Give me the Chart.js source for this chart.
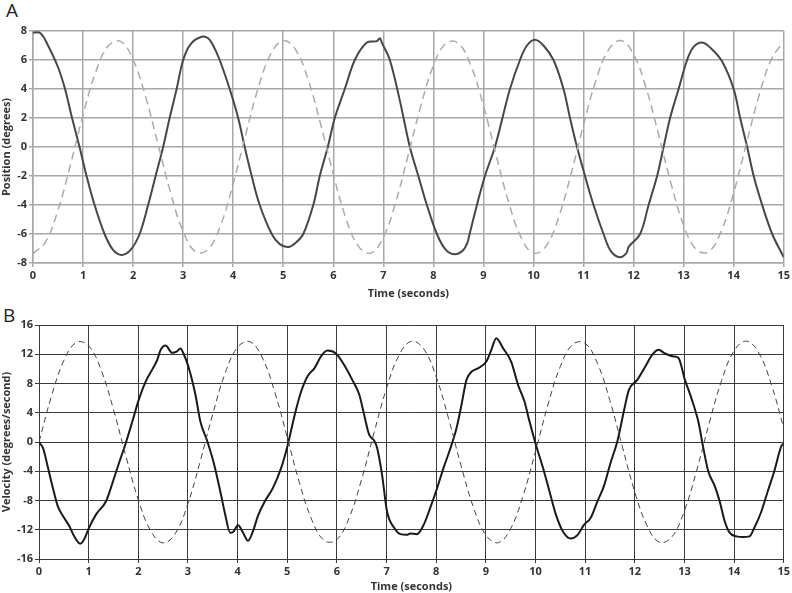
<!DOCTYPE html>
<html>
<head>
<meta charset="utf-8">
<script src="https://cdn.jsdelivr.net/npm/chart.js@4/dist/chart.umd.min.js"></script>
<style>
    body { margin: 0; background: #fff; width: 792px; height: 593px; position: relative; overflow: hidden; }
    .panel { position: absolute; left: 0; width: 792px; }
    .tag { position: absolute; font-family: "Open Sans", sans-serif; font-size: 19px; color: #222; }
</style>
</head>
<body>
<div class="tag" style="left:6px; top:-3px;">A</div>
<div class="panel" style="top:0; height:300px;"><canvas id="posChart"></canvas></div>
<div class="tag" style="left:3px; top:302px;">B</div>
<div class="panel" style="top:300px; height:293px;"><canvas id="velChart"></canvas></div>
<script>
// reference (dashed) curves, sampled every 0.25 s
const refTimes = [
    0, 0.25, 0.5, 0.75, 1, 1.25, 1.5, 1.75, 2, 2.25,
    2.5, 2.75, 3, 3.25, 3.5, 3.75, 4, 4.25, 4.5, 4.75,
    5, 5.25, 5.5, 5.75, 6, 6.25, 6.5, 6.75, 7, 7.25,
    7.5, 7.75, 8, 8.25, 8.5, 8.75, 9, 9.25, 9.5, 9.75,
    10, 10.25, 10.5, 10.75, 11, 11.25, 11.5, 11.75, 12, 12.25,
    12.5, 12.75, 13, 13.25, 13.5, 13.75, 14, 14.25, 14.5, 14.75,
    15
];
const posReference = [
    -7.35, -6.56, -4.35, -1.2, 2.21, 5.14, 6.96, 7.28, 6.03, 3.47,
    0.17, -3.17, -5.83, -7.22, -7.06, -5.38, -2.53, 0.86, 4.07, 6.4,
    7.34, 6.7, 4.62, 1.54, -1.88, -4.89, -6.84, -7.32, -6.22, -3.77,
    -0.51, 2.85, 5.61, 7.15, 7.15, 5.61, 2.85, -0.51, -3.77, -6.22,
    -7.32, -6.84, -4.88, -1.88, 1.54, 4.62, 6.7, 7.34, 6.39, 4.07,
    0.86, -2.54, -5.38, -7.06, -7.22, -5.82, -3.17, 0.18, 3.47, 6.03,
    7.28
];
const velReference = [
    0, 6.24, 11.12, 13.61, 13.16, 9.87, 4.45, -1.93, -7.9, -12.16,
    -13.8, -12.46, -8.42, -2.57, 3.83, 9.41, 12.96, 13.71, 11.49, 6.8,
    0.65, -5.66, -10.73, -13.49, -13.34, -10.31, -5.06, 1.3, 7.36, 11.84,
    13.77, 12.72, 8.92, 3.2, -3.2, -8.92, -12.72, -13.77, -11.84, -7.36,
    -1.3, 5.06, 10.32, 13.34, 13.49, 10.73, 5.66, -0.65, -6.82, -11.49,
    -13.71, -12.95, -9.41, -3.83, 2.59, 8.42, 12.46, 13.8, 12.16, 7.89,
    1.92
];

// measured position (solid)
const posTimes = [
    0, 0.15, 0.3, 0.5, 0.64, 0.78, 0.93, 1.07, 1.23, 1.43,
    1.6, 1.77, 1.95, 2.13, 2.3, 2.45, 2.6, 2.73, 2.87, 3.0,
    3.15, 3.37, 3.5, 3.6, 3.73, 3.93, 4.1, 4.23, 4.37, 4.53,
    4.77, 4.93, 5.1, 5.25, 5.4, 5.6, 5.73, 5.89, 6.03, 6.23,
    6.43, 6.67, 6.87, 6.93, 6.97, 7.13, 7.33, 7.53, 7.7, 7.87,
    8.07, 8.25, 8.43, 8.6, 8.68, 8.71, 8.87, 9.03, 9.23, 9.38,
    9.53, 9.73, 9.87, 10.03, 10.2, 10.4, 10.6, 10.73, 10.87, 11.03,
    11.2, 11.4, 11.55, 11.73, 11.86, 11.9, 12.13, 12.3, 12.47, 12.6,
    12.73, 12.9, 13.07, 13.2, 13.37, 13.55, 13.77, 14.0, 14.13, 14.27,
    14.4, 14.57, 14.77, 15
];
const posDeg = [
    7.9, 7.85, 7.0, 5.5, 4.0, 2.0, 0, -2, -4, -6,
    -7.1, -7.45, -7.1, -6, -4, -2, 0, 2, 4, 6,
    7.1, 7.6, 7.5, 7.0, 6, 4, 2, 0, -2, -4,
    -6, -6.7, -6.9, -6.6, -6, -4, -2, 0, 2, 4,
    6, 7.2, 7.3, 7.5, 7.2, 6, 3.2, 0, -2, -4,
    -6, -7.1, -7.4, -7.1, -6.6, -6.2, -4, -2, 0, 2,
    4, 6, 7.0, 7.4, 7.0, 6, 4, 2, 0, -2,
    -4, -6, -7.2, -7.6, -7.3, -6.9, -6, -4, -2, 0,
    2, 4, 6, 6.9, 7.2, 6.8, 5.9, 4, 2, 0,
    -2, -4, -6, -7.6
];

// measured velocity (solid)
const velTimes = [
    0, 0.08, 0.18, 0.28, 0.38, 0.48, 0.61, 0.71, 0.83, 0.91,
    1.01, 1.15, 1.35, 1.48, 1.61, 1.75, 1.88, 2.01, 2.15, 2.28,
    2.38, 2.45, 2.55, 2.68, 2.78, 2.85, 2.91, 3.01, 3.15, 3.25,
    3.38, 3.51, 3.65, 3.75, 3.85, 3.91, 4.01, 4.11, 4.21, 4.31,
    4.41, 4.55, 4.71, 4.88, 5.01, 5.15, 5.28, 5.41, 5.55, 5.68,
    5.81, 5.98, 6.15, 6.31, 6.45, 6.55, 6.65, 6.75, 6.81, 6.91,
    7.01, 7.15, 7.28, 7.41, 7.48, 7.61, 7.75, 7.88, 8.01, 8.15,
    8.28, 8.41, 8.51, 8.61, 8.71, 8.85, 9.01, 9.11, 9.21, 9.35,
    9.51, 9.65, 9.78, 9.88, 10.01, 10.15, 10.28, 10.41, 10.55, 10.71,
    10.85, 10.98, 11.11, 11.25, 11.38, 11.51, 11.65, 11.78, 11.88, 12.05,
    12.21, 12.35, 12.48, 12.61, 12.78, 12.88, 13.01, 13.15, 13.28, 13.38,
    13.48, 13.61, 13.71, 13.81, 13.91, 14.05, 14.18, 14.31, 14.41, 14.55,
    14.68, 14.81, 14.95, 15
];
const velDeg = [
    -0.1, -0.8, -3.5, -6.3, -8.8, -10.1, -11.5, -12.9, -13.9, -13.3,
    -11.7, -9.9, -8.1, -5.6, -2.9, -0.1, 2.8, 5.8, 8.3, 9.9,
    11.2, 12.6, 13.2, 12.2, 12.4, 12.8, 12.1, 10.3, 6.5, 2.8,
    0.3, -2.6, -6.7, -9.9, -12.4, -12.3, -11.4, -12.4, -13.5, -12.2,
    -10.1, -8.1, -6.3, -3.5, -0.4, 3.7, 6.9, 9.0, 10.1, 11.7,
    12.5, 12.1, 10.5, 8.5, 6.5, 3.7, 1.0, 0.2, -0.8, -4.5,
    -9.5, -11.7, -12.6, -12.7, -12.5, -12.6, -11.3, -9.0, -6.5, -3.5,
    -1.0, 1.9, 5.1, 8.5, 9.6, 10.1, 11.0, 12.6, 14.2, 12.8,
    11.0, 7.8, 5.5, 2.8, -0.4, -3.5, -6.7, -9.9, -12.2, -13.2,
    -12.7, -11.3, -10.4, -8.1, -6.0, -2.9, 0.1, 4.2, 7.1, 8.5,
    10.3, 11.9, 12.6, 12.1, 11.7, 11.5, 8.5, 5.8, 2.8, -0.8,
    -4.0, -6.0, -8.1, -10.8, -12.4, -12.9, -13.0, -12.9, -11.7, -9.5,
    -6.7, -4.0, -0.6, -0.2
];

const tickFont = { family: "'Open Sans', sans-serif", size: 11, weight: 'bold' };

function toPoints(xs, ys) {
    return xs.map((x, i) => ({ x: x, y: ys[i] }));
}

function makeChart(id, opts) {
    return new Chart(id, {
        type: 'line',
        data: {
            datasets: [{
                data: toPoints(refTimes, opts.reference),
                borderColor: opts.dashColor,
                borderWidth: opts.dashWidth,
                borderDash: opts.dash,
                pointRadius: 0,
                tension: 0.4
            }, {
                data: toPoints(opts.times, opts.values),
                borderColor: opts.lineColor,
                borderWidth: 2,
                pointRadius: 0,
                tension: opts.tension,
                cubicInterpolationMode: opts.mode
            }]
        },
        options: {
            responsive: true,
            maintainAspectRatio: false,
            animation: false,
            layout: { padding: { top: opts.top, right: opts.right, left: 0, bottom: 0 } },
            plugins: { legend: { display: false }, tooltip: { enabled: false } },
            scales: {
                x: {
                    type: 'linear',
                    min: 0,
                    max: 15,
                    afterFit: s => { s.height = opts.xHeight; },
                    ticks: { stepSize: 1, autoSkip: false, maxRotation: 0, font: tickFont, color: '#333', padding: 2 },
                    grid: { color: opts.gridColor, lineWidth: opts.gridWidth, tickLength: 4 },
                    border: { color: opts.gridColor, width: opts.gridWidth },
                    title: { display: true, text: 'Time (seconds)', font: tickFont, color: '#333', padding: 0 }
                },
                y: {
                    min: opts.yMin,
                    max: opts.yMax,
                    afterFit: s => { s.width = opts.yWidth; },
                    ticks: { stepSize: opts.yStep, font: tickFont, color: '#333', padding: 2 },
                    grid: { color: opts.gridColor, lineWidth: opts.gridWidth, tickLength: 4 },
                    border: { color: opts.gridColor, width: opts.gridWidth },
                    title: { display: true, text: opts.yTitle, font: tickFont, color: '#333', padding: 0 }
                }
            }
        }
    });
}

makeChart('posChart', {
    reference: posReference, times: posTimes, values: posDeg,
    dashColor: '#ababab', dashWidth: 1.5, dash: [8, 5], lineColor: '#474747',
    tension: 0.35, mode: 'default',
    gridColor: '#a8a8a8', gridWidth: 1.5,
    top: 31, right: 7, xHeight: 37, yWidth: 33,
    yMin: -8, yMax: 8, yStep: 2, yTitle: 'Position (degrees)'
});

makeChart('velChart', {
    reference: velReference, times: velTimes, values: velDeg,
    dashColor: '#444', dashWidth: 1, dash: [6, 4], lineColor: '#1a1a1a',
    tension: 0, mode: 'monotone',
    gridColor: '#3a3a3a', gridWidth: 1,
    top: 25, right: 4, xHeight: 34, yWidth: 39,
    yMin: -16, yMax: 16, yStep: 4, yTitle: 'Velocity (degrees/second)'
});
</script>
</body>
</html>
